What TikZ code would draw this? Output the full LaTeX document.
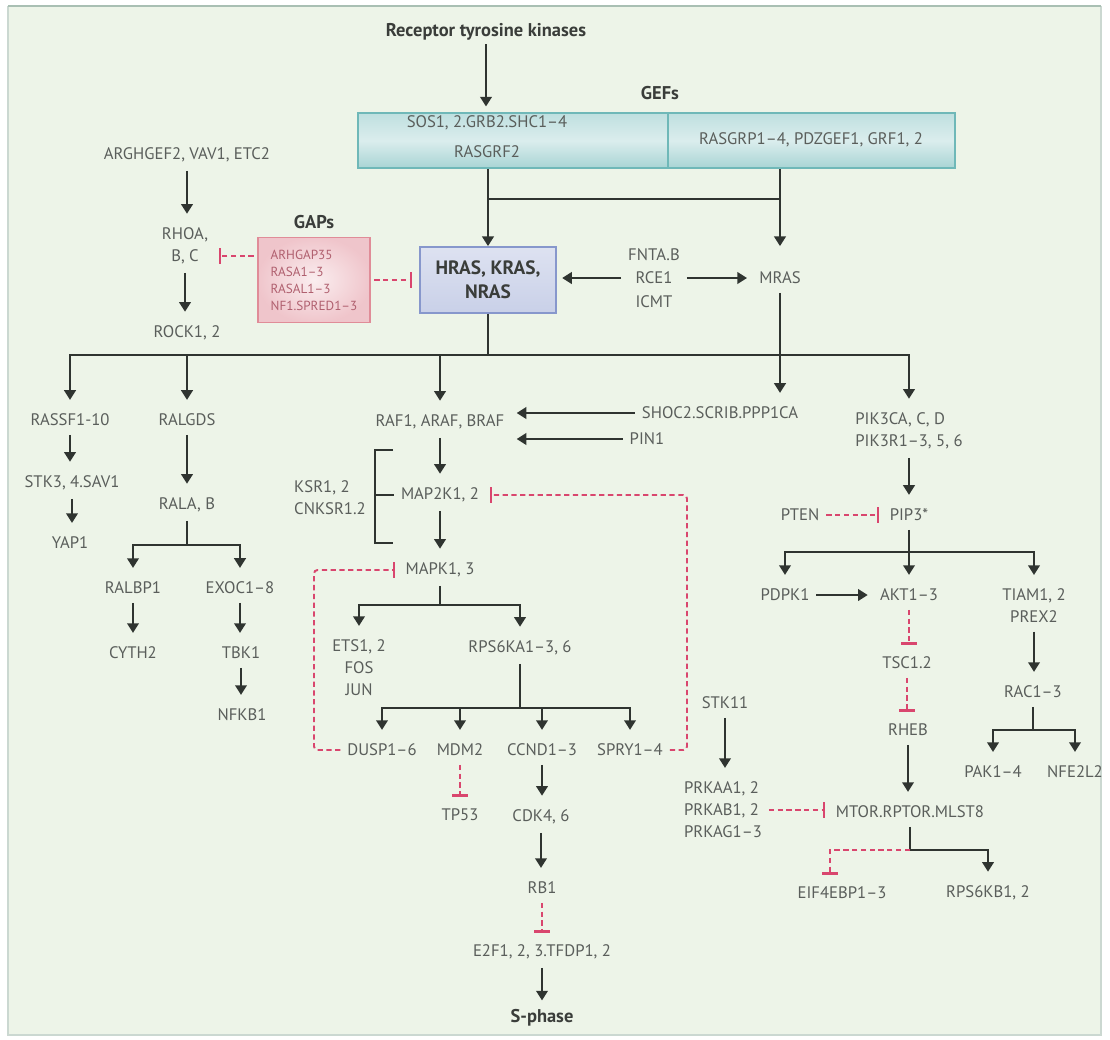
\documentclass[tikz,border=0pt]{standalone}
\usepackage{fontspec}
\setmainfont{PT Sans}
\usetikzlibrary{arrows.meta, calc}
\definecolor{panelbg}{HTML}{EDF4E8}
\definecolor{panelrule}{HTML}{A9BFB3}
\definecolor{genegrey}{HTML}{5A5E5B}
\definecolor{titledark}{HTML}{3A3D3A}
\definecolor{arrowdark}{HTML}{2F3430}
\definecolor{inhred}{HTML}{D9466E}
\definecolor{gefedge}{HTML}{6FB8B8}
\definecolor{rasedge}{HTML}{8797CC}
\definecolor{gapedge}{HTML}{E08C98}
\definecolor{gaptext}{HTML}{B0606F}

\begin{document}
\begin{tikzpicture}[x=0.02cm, y=-0.02cm,
    gene/.style={text=genegrey, font=\fontsize{9.5}{12.5}\selectfont, align=center, inner xsep=2pt, inner ysep=3pt, outer sep=2pt},
    title/.style={text=titledark, font=\fontsize{10.5}{12.5}\selectfont\bfseries, inner sep=2pt},
    arr/.style={draw=arrowdark, line width=1.4pt, -{Triangle[width=6.5pt,length=5.5pt]}, shorten >=3pt},
    link/.style={draw=arrowdark, line width=1.4pt},
    inh/.style={draw=inhred, line width=1.1pt, dash pattern=on 3pt off 2pt, -{Bar[width=9pt,line width=1.3pt]}, shorten >=2pt},
    gefbox/.style={draw=gefedge, line width=1.4pt, top color=gefedge!45, bottom color=gefedge!60, middle color=gefedge!25},
    rasbox/.style={draw=rasedge, line width=1pt, top color=rasedge!28, bottom color=rasedge!45, text=titledark, font=\fontsize{11}{13.6}\selectfont\bfseries, align=center},
    gapbox/.style={draw=gapedge, line width=1pt, inner color=gapedge!15, outer color=gapedge!50, text=gaptext, font=\fontsize{7.5}{9.7}\selectfont, align=left}]
    \useasboundingbox (0,0) rectangle (1110,1039);
    % panel
    \fill[white] (0,0) rectangle (1110,1039);
    \fill[panelbg] (8,6) rectangle (1101,1035);
    \draw[panelrule!60, line width=0.6pt] (8,6) -- (8,1035) -- (1101,1035) -- (1101,6);
    \draw[panelrule, line width=1.3pt] (8,6) -- (1101,6);

    % receptors and GEFs
    \node[title] (rtk) at (486,32) {Receptor tyrosine kinases};
    \node[title] (gefs) at (660,93) {GEFs};
    \node[gefbox, minimum width=11.94cm, minimum height=1.1cm] (gef) at (656.5,140.5) {};
    \draw[gefedge, line width=0.8pt] (668,113) -- (668,168);
    \node[gene, font=\fontsize{9.5}{17}\selectfont] (sos) at (487,137) {SOS1, 2.GRB2.SHC1--4\\RASGRF2};
    \node[gene] (rasgrp) at (811,140) {RASGRP1--4, PDZGEF1, GRF1, 2};

    % RAS, GAPs, MRAS
    \node[rasbox, minimum width=2.72cm, minimum height=1.32cm] (ras) at (488,280) {HRAS, KRAS,\\NRAS};
    \node[title] (gapst) at (314,222) {GAPs};
    \node[gapbox, minimum width=2.24cm, minimum height=1.7cm] (gaps) at (314,280) {ARHGAP35\\RASA1--3\\RASAL1--3\\NF1.SPRED1--3};
    \node[gene, font=\fontsize{9.5}{13.3}\selectfont] (fnta) at (654,278) {FNTA.B\\RCE1\\ICMT};
    \node[gene] (mras) at (780,278) {MRAS};

    % RHO branch
    \node[gene] (arhgef) at (187,155) {ARGHGEF2, VAV1, ETC2};
    \node[gene] (rhoa) at (185,246) {RHOA,\\B, C};
    \node[gene] (rock) at (187,333) {ROCK1, 2};

    % effectors
    \node[gene] (rassf) at (70,420) {RASSF1-10};
    \node[gene] (ralgds) at (187,420) {RALGDS};
    \node[gene] (raf) at (440,422) {RAF1, ARAF, BRAF};
    \node[gene] (shoc) at (720,413) {SHOC2.SCRIB.PPP1CA};
    \node[gene] (pin) at (647,439) {PIN1};
    \node[gene, align=left] (pik) at (909,431) {PIK3CA, C, D\\PIK3R1--3, 5, 6};

    \node[gene] (stk3) at (72,483) {STK3, 4.SAV1};
    \node[gene] (yap) at (70,543) {YAP1};
    \node[gene] (rala) at (187,505) {RALA, B};
    \node[gene] (ralbp) at (133,588) {RALBP1};
    \node[gene] (exoc) at (240,588) {EXOC1--8};
    \node[gene] (cyth) at (133,653) {CYTH2};
    \node[gene] (tbk) at (241,653) {TBK1};
    \node[gene] (nfkb) at (242,715) {NFKB1};

    % MAPK cascade
    \node[gene] (map2k) at (440,495) {MAP2K1, 2};
    \node[gene, align=left] (ksr) at (330,498) {KSR1, 2\\CNKSR1.2};
    \node[gene] (mapk) at (440,570) {MAPK1, 3};
    \node[gene] (ets) at (359,668) {ETS1, 2\\FOS\\JUN};
    \node[gene] (rsk) at (520,648) {RPS6KA1--3, 6};
    \node[gene] (dusp) at (382,750) {DUSP1--6};
    \node[gene] (mdm) at (460,750) {MDM2};
    \node[gene] (ccnd) at (542,750) {CCND1--3};
    \node[gene] (spry) at (630,750) {SPRY1--4};
    \node[gene] (tp53) at (460,815) {TP53};
    \node[gene] (cdk) at (541,817) {CDK4, 6};
    \node[gene] (rb) at (542,888) {RB1};
    \node[gene] (e2f) at (542,952) {E2F1, 2, 3.TFDP1, 2};
    \node[title] (sphase) at (542,1018) {S-phase};

    % PI3K branch
    \node[gene] (pten) at (800,515) {PTEN};
    \node[gene] (pip) at (909,515) {PIP3*};
    \node[gene] (pdpk) at (785,595) {PDPK1};
    \node[gene] (akt) at (909,595) {AKT1--3};
    \node[gene] (tiam) at (1034,606) {TIAM1, 2\\PREX2};
    \node[gene] (tsc) at (907,663) {TSC1.2};
    \node[gene] (rheb) at (908,730) {RHEB};
    \node[gene] (rac) at (1033,692) {RAC1--3};
    \node[gene] (pak) at (993,772) {PAK1--4};
    \node[gene] (nfe) at (1075,772) {NFE2L2};
    \node[gene] (stk11) at (725,703) {STK11};
    \node[gene, align=left] (prka) at (723,810) {PRKAA1, 2\\PRKAB1, 2\\PRKAG1--3};
    \node[gene] (mtor) at (910,812) {MTOR.RPTOR.MLST8};
    \node[gene] (eif) at (842,893) {EIF4EBP1--3};
    \node[gene] (s6k) at (988,893) {RPS6KB1, 2};

    % junctions
    \coordinate (gefbar) at (633,199);
    \coordinate (rasbar) at (488,355);
    \coordinate (ralabar) at (187,545);
    \coordinate (mapkbar) at (440,605);
    \coordinate (rskbar) at (520,708);
    \coordinate (pipbar) at (909,552);
    \coordinate (racbar) at (1033,730);
    \coordinate (mtorbar) at (910,850);
    \coordinate (eifbar) at (830,850);
    \coordinate (fbL) at (314,570);
    \coordinate (fbR) at (687,495);

    % top connectors
    \draw[arr] (rtk) -- (rtk |- gef.north);
    \draw[arr, shorten >=0pt] (gef.south -| ras) -- (ras);
    \draw[arr, shorten >=0pt] (gef.south -| mras) -- (mras |- ras.north);
    \draw[link] (gefbar -| ras) -- (gefbar -| mras);
    \draw[arr] (fnta) -- (fnta -| ras.east);
    \draw[arr] (fnta) -- (mras);
    \draw[inh, shorten <=2pt, shorten >=4pt] (gaps.east) -- (gaps.east -| ras.west);
    \draw[inh, shorten <=2pt] ($(gaps.west)+(0,-24)$) -- ($(rhoa.east)+(0,10)$);

    % RAS effector bar
    \draw[link] (ras) -- (rasbar);
    \draw[arr] (rasbar) -| (rassf);
    \draw[arr] (rasbar) -| (pik);
    \draw[arr] (rasbar -| ralgds) -- (ralgds);
    \draw[arr] (rasbar -| raf) -- (raf);
    \draw[arr] (mras) -- (mras |- shoc.north);
    \draw[arr] (shoc.west) -- (shoc.west -| raf.east);
    \draw[arr] (pin.west) -- (pin.west -| raf.east);

    % straight activations
    \foreach \a/\b in {arhgef/rhoa, rhoa/rock, rassf/stk3, stk3/yap, ralgds/rala,
        ralbp/cyth, exoc/tbk, tbk/nfkb, raf/map2k, map2k/mapk, ccnd/cdk, cdk/rb,
        e2f/sphase, stk11/prka, pik/pip, pip/akt, tiam/rac, rheb/mtor}
        \draw[arr] (\a) -- (\a |- \b.north);
    \draw[arr] (pdpk) -- (pdpk -| akt.west);

    % straight inhibitions
    \foreach \a/\b in {mdm/tp53, rb/e2f, akt/tsc, tsc/rheb}
        \draw[inh] (\a) -- (\a |- \b.north);
    \draw[inh] (pten) -- (pten -| pip.west);
    \draw[inh] (prka) -- (prka -| mtor.west);

    % branches
    \draw[link] (rala) -- (ralabar);
    \draw[arr] (ralabar) -| (ralbp);
    \draw[arr] (ralabar) -| (exoc);
    \draw[link] (mapk) -- (mapkbar);
    \draw[arr] (mapkbar) -| (ets);
    \draw[arr] (mapkbar) -| (rsk);
    \draw[link] (rsk) -- (rskbar);
    \draw[arr] (rskbar) -| (dusp);
    \draw[arr] (rskbar) -| (spry);
    \draw[arr] (rskbar -| mdm) -- (mdm);
    \draw[arr] (rskbar -| ccnd) -- (ccnd);
    \draw[arr] (pipbar) -| (pdpk);
    \draw[arr] (pipbar) -| (tiam);
    \draw[link] (rac) -- (racbar);
    \draw[arr] (racbar) -| (pak);
    \draw[arr] (racbar) -| (nfe);
    \draw[link] (mtor) -- (mtorbar);
    \draw[arr] (mtorbar) -| (s6k);
    \draw[inh] (mtorbar) -| (eifbar |- eif.north);

    % scaffold bracket
    \draw[link, line width=1.1pt] (393,450) -- (375,450) -- (375,543) -- (393,543);
    \draw[link, line width=1.1pt] (375,495) -- (map2k.west);

    % feedback loops
    \draw[inh, rounded corners=2pt] (dusp.west) -| (fbL) -- (mapk.west);
    \draw[inh, rounded corners=2pt] (spry.east) -| (fbR) -- (map2k.east);
\end{tikzpicture}
\end{document}
